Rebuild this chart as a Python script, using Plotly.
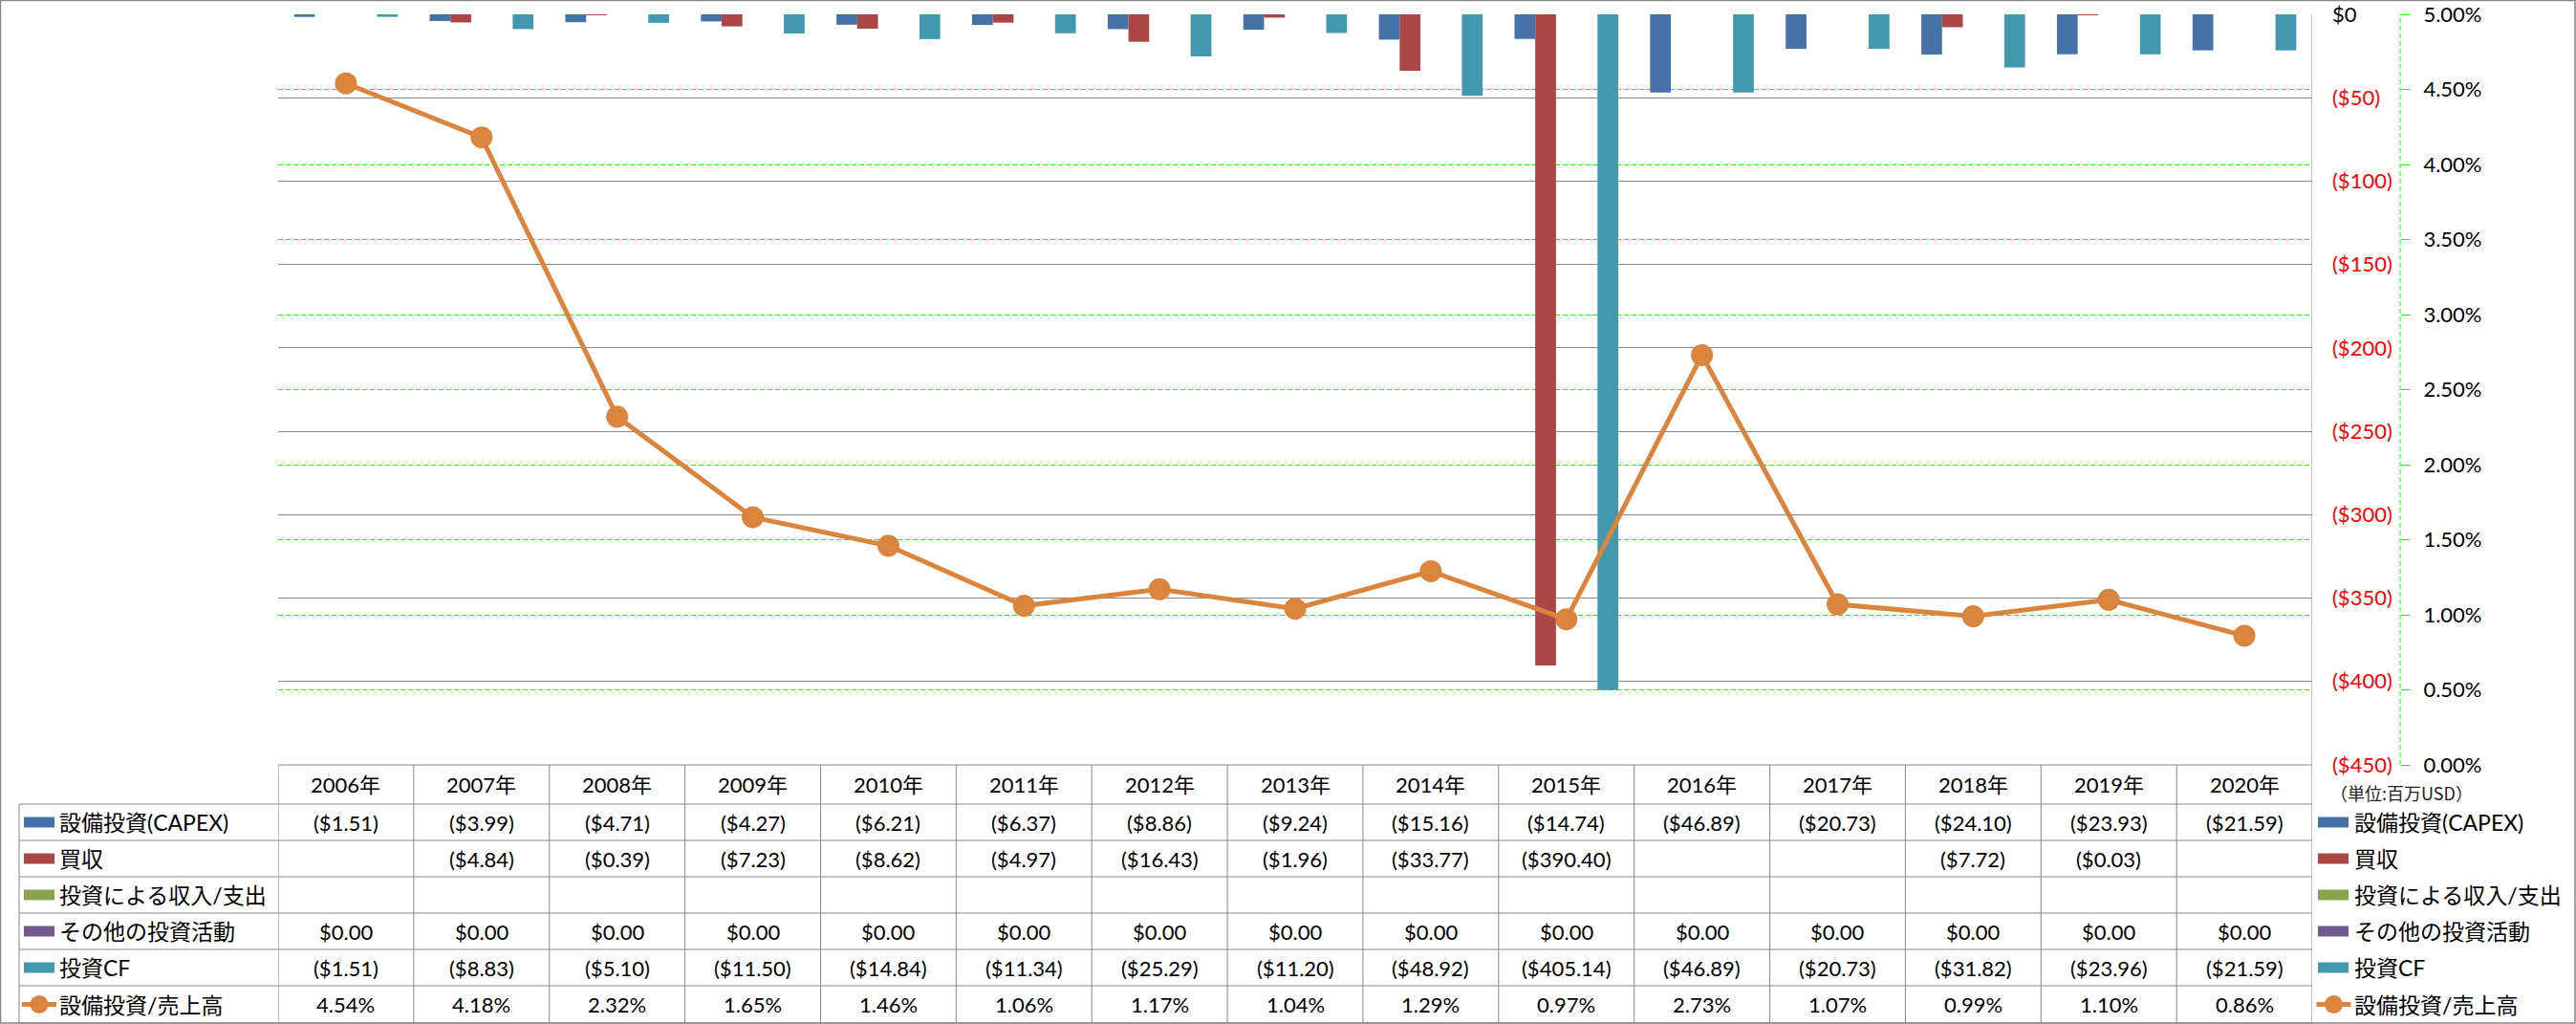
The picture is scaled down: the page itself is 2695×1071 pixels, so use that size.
import plotly.graph_objects as go

W, H = 2695, 1071

# ---------------- data ----------------
years = ["2006年", "2007年", "2008年", "2009年", "2010年", "2011年", "2012年", "2013年",
         "2014年", "2015年", "2016年", "2017年", "2018年", "2019年", "2020年"]
capex = [-1.51, -3.99, -4.71, -4.27, -6.21, -6.37, -8.86, -9.24, -15.16, -14.74,
         -46.89, -20.73, -24.10, -23.93, -21.59]
acquisition = [None, -4.84, -0.39, -7.23, -8.62, -4.97, -16.43, -1.96, -33.77, -390.40,
               None, None, -7.72, -0.03, None]
invest_income = [None] * 15
other_invest = [0.0] * 15
invest_cf = [-1.51, -8.83, -5.10, -11.50, -14.84, -11.34, -25.29, -11.20, -48.92, -405.14,
             -46.89, -20.73, -31.82, -23.96, -21.59]
capex_ratio_pct = [4.54, 4.18, 2.32, 1.65, 1.46, 1.06, 1.17, 1.04, 1.29, 0.97,
                   2.73, 1.07, 0.99, 1.10, 0.86]

bar_names = ["設備投資(CAPEX)", "買収", "投資による収入/支出", "その他の投資活動", "投資CF"]
line_name = "設備投資/売上高"
unit_label = "（単位:百万USD）"
primary_ticks = [0, -50, -100, -150, -200, -250, -300, -350, -400, -450]
secondary_ticks = [0.0, 0.005, 0.01, 0.015, 0.02, 0.025, 0.03, 0.035, 0.04, 0.045, 0.05]

# ---------------- styles ----------------
bar_colors = ["#4572A7", "#AA4643", "#89A54E", "#71588F", "#4198AF"]
line_color = "#DB843D"
FONT = "Lato, 'Noto Sans CJK JP', sans-serif"
GRID_GRAY = "#878787"
GREEN = "#00FF00"


def px(x):
    return x / W


def py(y):
    return 1 - y / H


def money(v):
    if v is None:
        return ""
    if v < 0:
        return f"(${abs(v):,.2f})"
    return f"${v:,.2f}"


def money_tick(v):
    if v < 0:
        return f"<span style='color:#FF0000'>(${abs(v):,.0f})</span>"
    return f"${v:,.0f}"


series = [capex, acquisition, invest_income, other_invest, invest_cf]

fig = go.Figure()
for name, vals, col in zip(bar_names, series, bar_colors):
    fig.add_trace(go.Bar(x=years, y=vals, name=name, marker=dict(color=col, line=dict(width=0)),
                         yaxis="y", showlegend=False))

fig.add_trace(go.Scatter(x=years, y=[v / 100 for v in capex_ratio_pct], name=line_name,
                         mode="lines+markers", yaxis="y2", showlegend=False,
                         line=dict(color=line_color, width=5),
                         marker=dict(color=line_color, size=23, line=dict(width=0))))

# plot area geometry (px)
PL, PR, PT, PB = 291, 2419, 15, 800

fig.update_layout(
    width=W, height=H,
    margin=dict(l=0, r=0, t=0, b=0, autoexpand=False),
    paper_bgcolor="white", plot_bgcolor="white",
    font=dict(family=FONT, size=22, color="black"),
    showlegend=False,
    barmode="group", bargap=0.235, bargroupgap=0,
    xaxis=dict(domain=[px(PL), px(PR)], type="category", range=[-0.5, 14.5], automargin=False,
               showticklabels=False, showgrid=False, zeroline=False, showline=False, ticks=""),
    yaxis=dict(domain=[py(PB), py(PT)], range=[-450, 0], side="right", anchor="x",
               automargin=False,
               tickvals=primary_ticks, ticktext=[money_tick(v) for v in primary_ticks],
               showgrid=True, gridcolor=GRID_GRAY, gridwidth=1, zeroline=False,
               showline=False, ticks="", ticklabelstandoff=20,
               tickfont=dict(family=FONT, size=22, color="black")),
    yaxis2=dict(overlaying="y", side="right", anchor="free", position=px(2511),
                automargin=False,
                range=[0, 0.05], tickvals=secondary_ticks, tickformat=".2%",
                showgrid=True, gridcolor=GREEN, gridwidth=1, griddash="5px,3px",
                zeroline=False, showline=False, ticks="outside", ticklen=9,
                tickcolor=GREEN, tickwidth=1, ticklabelstandoff=10,
                tickfont=dict(family=FONT, size=22, color="black")),
)

shapes = []
line_style = dict(color=GRID_GRAY, width=1)
# outer border
shapes.append(dict(type="rect", xref="paper", yref="paper", x0=px(0.5), x1=px(2694),
                   y0=py(1070), y1=py(0.5), line=dict(color=GRID_GRAY, width=1.5)))
# secondary axis dashed line
shapes.append(dict(type="line", xref="paper", yref="paper", x0=px(2511), x1=px(2511),
                   y0=py(PB), y1=py(PT), line=dict(color=GREEN, width=1, dash="5px,3px")))

# table geometry
header_top, header_bot = 800, 841
row_edges = [841, 879, 917, 955, 993, 1031, 1070]
row_centers = [(row_edges[i] + row_edges[i + 1]) / 2 for i in range(6)]
TL = 20

# vertical column lines (category boundaries)
for k in range(16):
    top = PT if k == 15 else header_top
    shapes.append(dict(type="line", xref="x", yref="paper", x0=k - 0.5, x1=k - 0.5,
                       y0=py(1070), y1=py(top), line=line_style))
shapes.append(dict(type="line", xref="paper", yref="paper", x0=px(TL), x1=px(TL),
                   y0=py(1070), y1=py(header_bot), line=line_style))
# horizontal lines
shapes.append(dict(type="line", xref="paper", yref="paper", x0=px(PL), x1=px(PR),
                   y0=py(header_top), y1=py(header_top), line=line_style))
for yv in row_edges:
    shapes.append(dict(type="line", xref="paper", yref="paper", x0=px(TL), x1=px(PR),
                       y0=py(yv), y1=py(yv), line=line_style))

annotations = []
# header years
for yr in years:
    annotations.append(dict(x=yr, xref="x", y=py((header_top + header_bot) / 2), yref="paper",
                            text=yr, showarrow=False, xanchor="center", yanchor="middle",
                            font=dict(family=FONT, size=22, color="black")))
# table body
table_rows = [[money(v) for v in s] for s in series] + [[f"{v:.2f}%" for v in capex_ratio_pct]]
for r, row in enumerate(table_rows):
    for yr, txt in zip(years, row):
        if txt:
            annotations.append(dict(x=yr, xref="x", y=py(row_centers[r]), yref="paper",
                                    text=txt, showarrow=False, xanchor="center", yanchor="middle",
                                    font=dict(family=FONT, size=22, color="black")))


def legend_block(x_sw, x_txt, marker_cx):
    for i, (name, col) in enumerate(zip(bar_names, bar_colors)):
        yc = row_centers[i]
        shapes.append(dict(type="rect", xref="paper", yref="paper", x0=px(x_sw), x1=px(x_sw + 32),
                           y0=py(yc + 5.5), y1=py(yc - 5.5), fillcolor=col, line=dict(width=0)))
        annotations.append(dict(x=px(x_txt), xref="paper", y=py(yc), yref="paper", text=name,
                                showarrow=False, xanchor="left", yanchor="middle",
                                font=dict(family=FONT, size=23, color="black")))
    yc = row_centers[5]
    shapes.append(dict(type="line", xref="paper", yref="paper", x0=px(marker_cx - 18),
                       x1=px(marker_cx + 18), y0=py(yc), y1=py(yc),
                       line=dict(color=line_color, width=5)))
    shapes.append(dict(type="circle", xref="paper", yref="paper", x0=px(marker_cx - 9.5),
                       x1=px(marker_cx + 9.5), y0=py(yc + 9.5), y1=py(yc - 9.5),
                       fillcolor=line_color, line=dict(width=0)))
    annotations.append(dict(x=px(x_txt), xref="paper", y=py(yc), yref="paper", text=line_name,
                            showarrow=False, xanchor="left", yanchor="middle",
                            font=dict(family=FONT, size=23, color="black")))


legend_block(25, 60, 41)
legend_block(2425, 2461, 2441.5)

annotations.append(dict(x=px(2436), xref="paper", y=py(829), yref="paper", text=unit_label,
                        showarrow=False, xanchor="left", yanchor="middle",
                        font=dict(family="'Noto Sans CJK JP', sans-serif", size=18, color="#222222")))

fig.update_layout(shapes=shapes, annotations=annotations)

fig.write_html("out.html", config={"displayModeBar": False},
               post_script="document.body.style.margin='0';document.body.style.overflow='hidden';")
